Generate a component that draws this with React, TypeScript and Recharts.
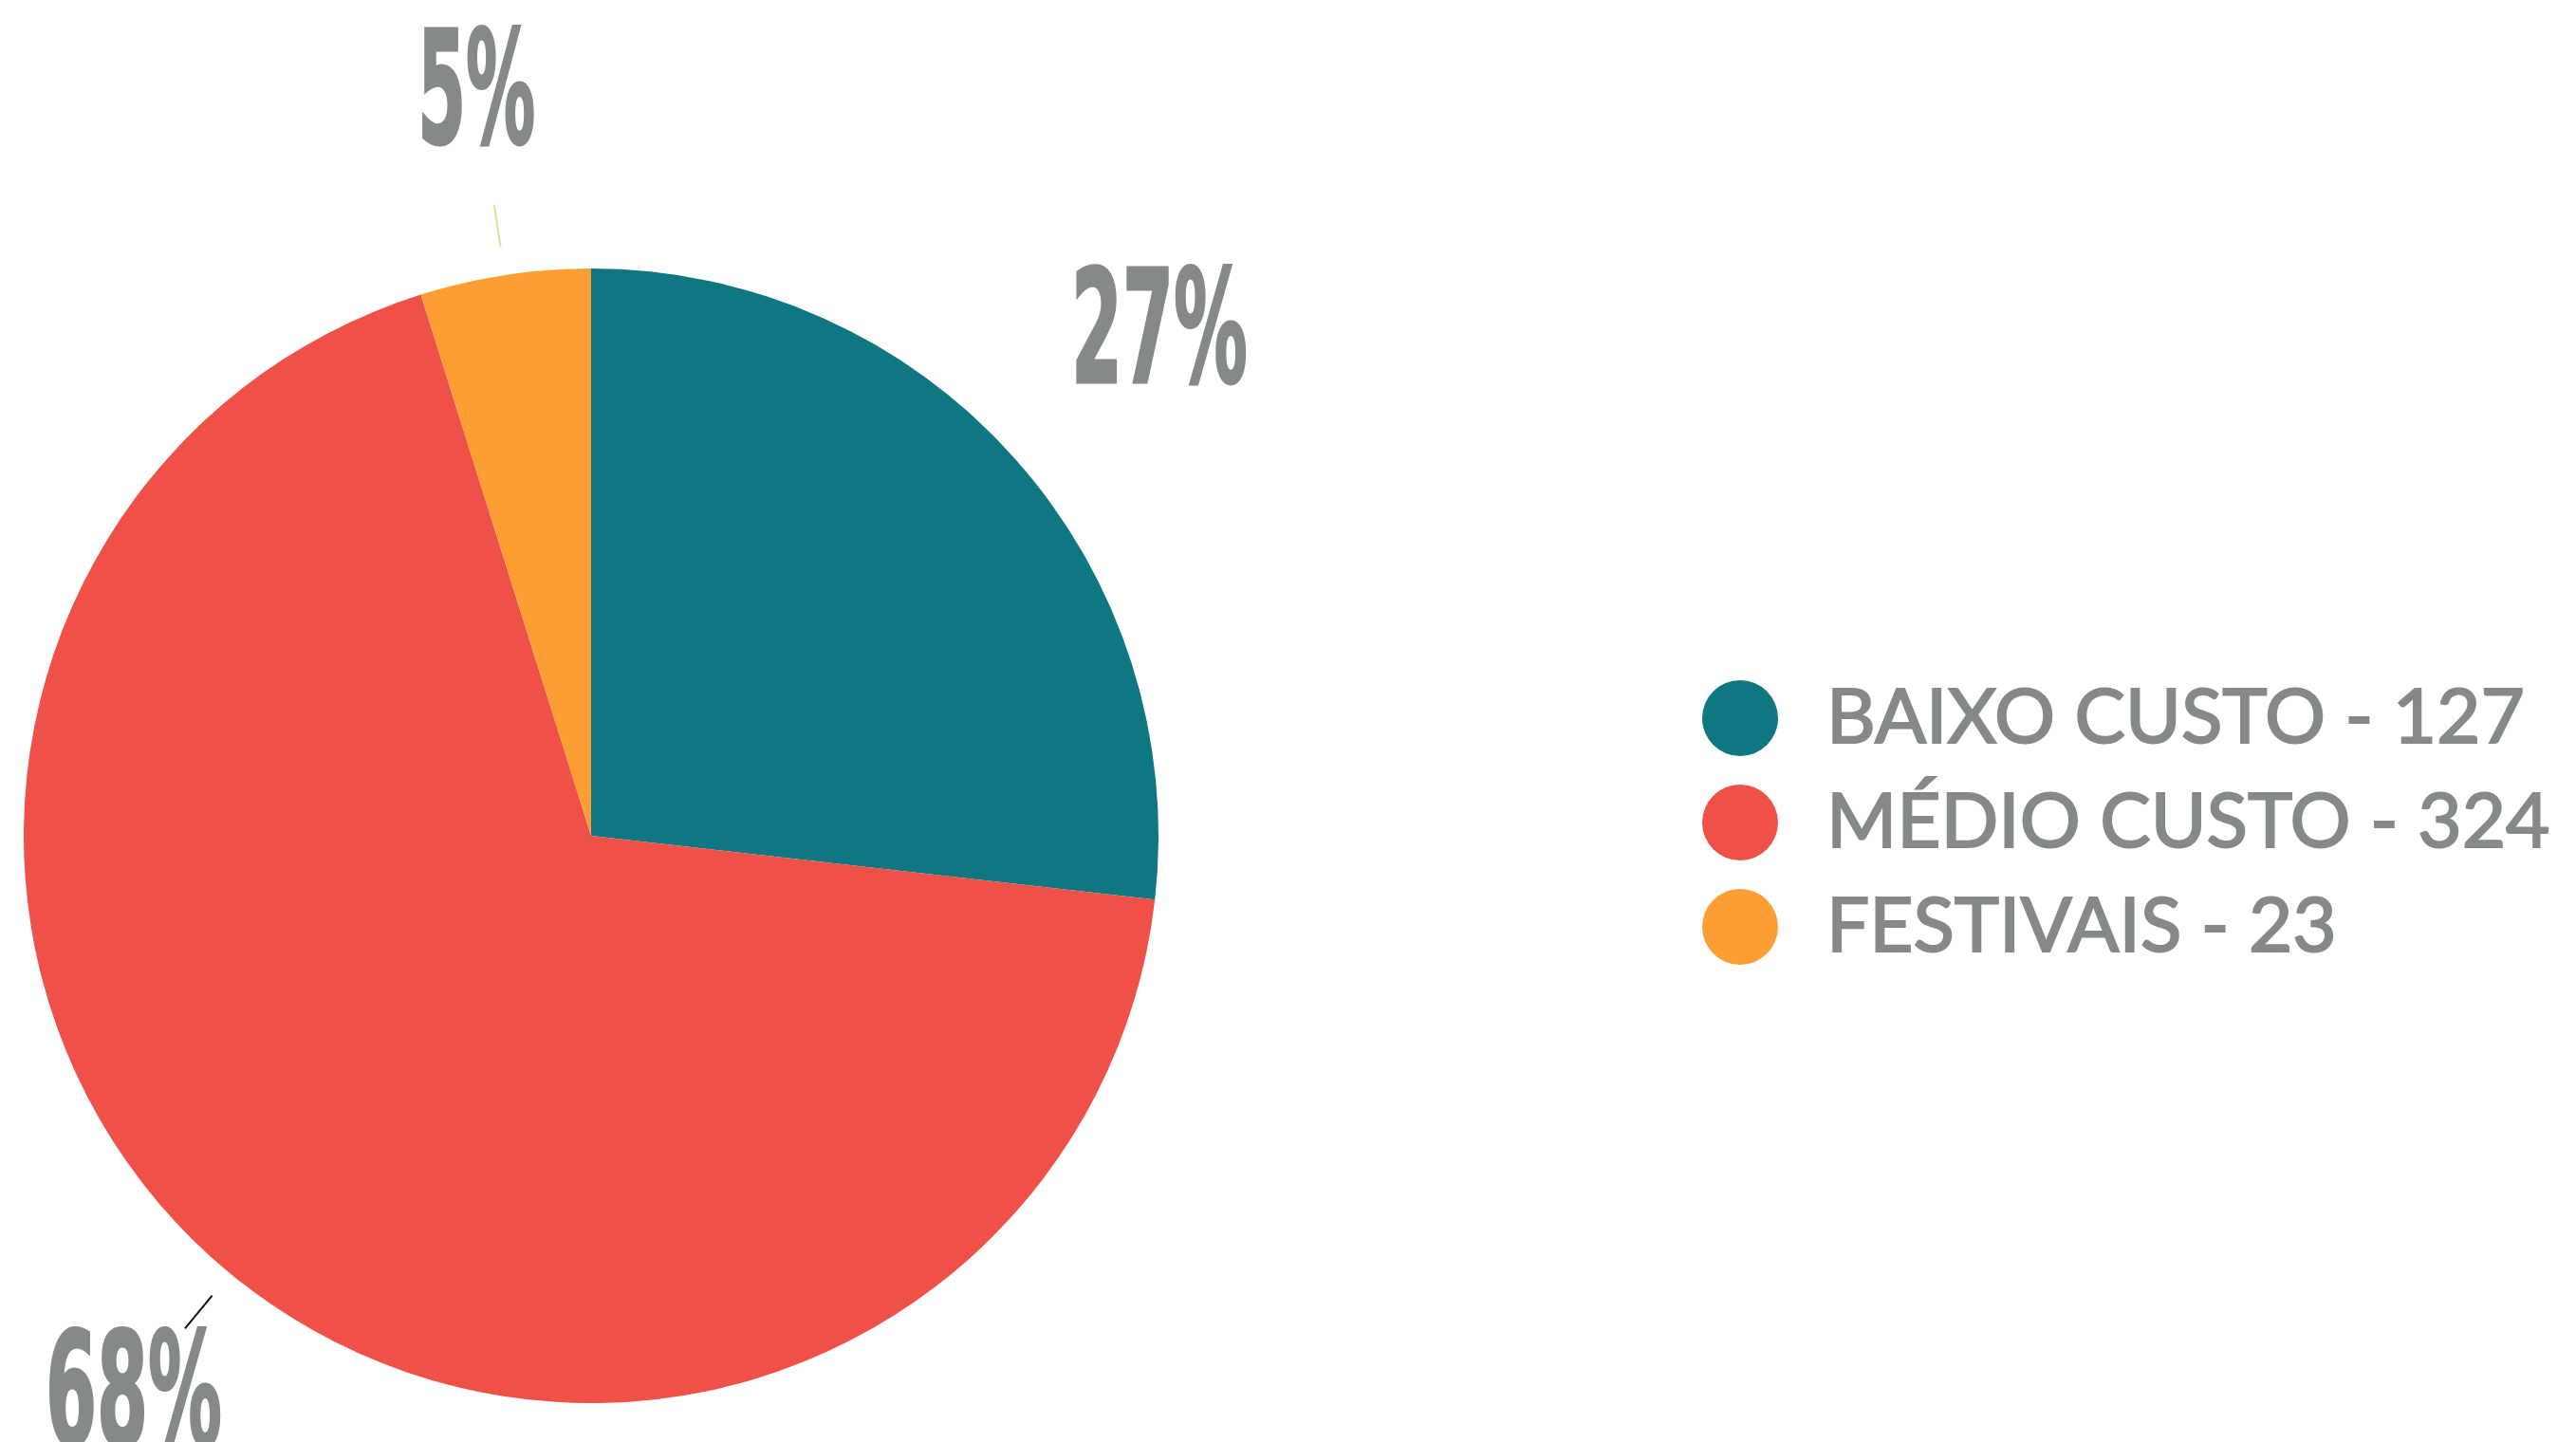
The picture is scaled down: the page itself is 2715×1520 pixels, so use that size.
import { PieChart, Pie, Cell, Legend } from "recharts";

const categories = ["BAIXO CUSTO", "MÉDIO CUSTO", "FESTIVAIS"];
const counts = [127, 324, 23];
const colors = ["#0E7782", "#EF5048", "#FD9E34"];

// per-slice label placement (distance beyond the rim) and leader line colour
const labelGap = [205, 160, 198];
const lineColors = ["none", "#111111", "#d4e89a"];

const data = categories.map((name, i) => ({ name, value: counts[i] }));

const RAD = Math.PI / 180;
const GRAY = "#858989";

function renderLabel(props: any) {
  const { cx, cy, midAngle, outerRadius, percent, index } = props;
  const txt = `${Math.round(percent * 100)}%`;
  const r = outerRadius + labelGap[index];
  const x = cx + r * Math.cos(-midAngle * RAD);
  const y = cy + r * Math.sin(-midAngle * RAD);
  const l1 = outerRadius + 30;
  const l2 = outerRadius + 75;
  return (
    <g key={`lbl-${index}`}>
      {lineColors[index] !== "none" && (
        <line
          x1={cx + l1 * Math.cos(-midAngle * RAD)}
          y1={cy + l1 * Math.sin(-midAngle * RAD)}
          x2={cx + l2 * Math.cos(-midAngle * RAD)}
          y2={cy + l2 * Math.sin(-midAngle * RAD)}
          stroke={lineColors[index]}
          strokeWidth={2}
        />
      )}
      <text
        x={x}
        y={y + 57}
        textAnchor="middle"
        fill={GRAY}
        stroke={GRAY}
        strokeWidth={3}
        fontFamily="'Liberation Sans Narrow', 'DejaVu Sans Condensed', sans-serif"
        fontWeight="bold"
        fontSize={165}
        textLength={txt.length * 62}
        lengthAdjust="spacingAndGlyphs"
      >
        {txt}
      </text>
    </g>
  );
}

function LegendBox() {
  return (
    <svg width={925} height={340}>
      {data.map((d, i) => (
        <g key={d.name}>
          <circle cx={44} cy={67 + i * 110} r={40} fill={colors[i]} />
          <text
            x={135}
            y={93 + i * 110}
            fill={GRAY}
            stroke={GRAY}
            strokeWidth={2}
            fontFamily="Lato, 'Noto Sans', sans-serif"
            fontSize={80}
          >
            {`${d.name} - ${d.value}`}
          </text>
        </g>
      ))}
    </svg>
  );
}

export default function App() {
  return (
    <div style={{ position: "absolute", left: 0, top: 0, width: 2715, height: 1520, background: "#fff" }}>
      <PieChart width={2715} height={1520} margin={{ top: 0, right: 0, bottom: 0, left: 0 }}>
        <Pie
          data={data}
          dataKey="value"
          nameKey="name"
          cx={623}
          cy={881}
          outerRadius={598}
          startAngle={90}
          endAngle={-270}
          stroke="none"
          label={renderLabel}
          labelLine={false}
          isAnimationActive={false}
        >
          {data.map((_, i) => (
            <Cell key={`cell-${i}`} fill={colors[i]} />
          ))}
        </Pie>
        <Legend
          content={() => <LegendBox />}
          wrapperStyle={{ position: "absolute", left: 1790, top: 690, width: 925, height: 340 }}
        />
      </PieChart>
    </div>
  );
}
